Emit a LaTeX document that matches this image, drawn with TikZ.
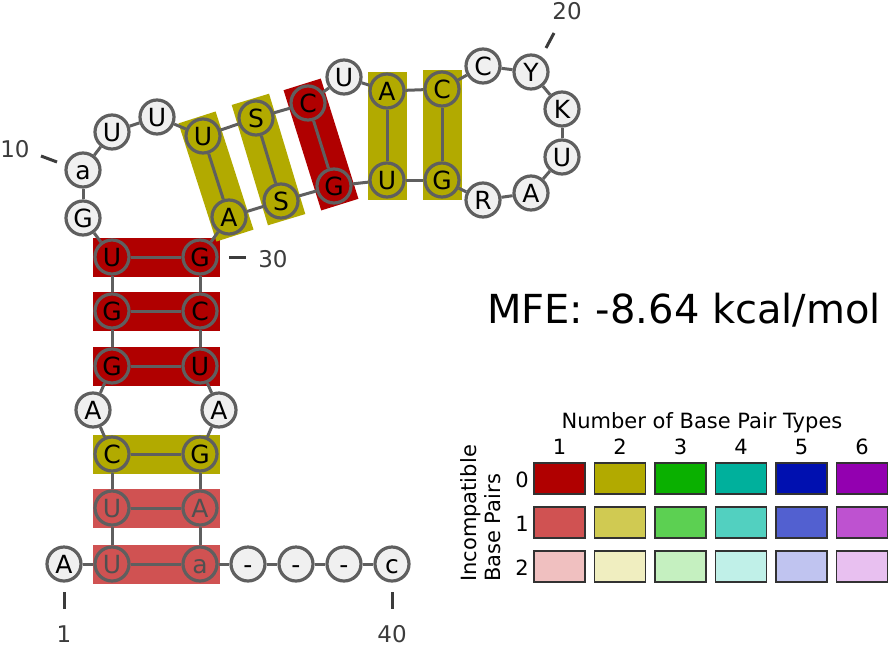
\documentclass[tikz,border=0pt]{standalone}
\usepackage{fontspec}
\setmainfont{DejaVu Sans}
\usetikzlibrary{backgrounds}
\definecolor{ntb}{RGB}{95,95,95}
\definecolor{ntf}{RGB}{240,240,240}
\definecolor{ltxt}{RGB}{80,80,80}
\definecolor{tickc}{RGB}{60,60,60}
\definecolor{swb}{RGB}{50,50,50}
\definecolor{cA0}{RGB}{176,0,0}
\definecolor{cB0}{RGB}{178,170,0}
\definecolor{cC0}{RGB}{10,176,0}
\definecolor{cD0}{RGB}{0,176,156}
\definecolor{cE0}{RGB}{0,16,176}
\definecolor{cF0}{RGB}{147,0,176}
\definecolor{cA1}{RGB}{208,82,82}
\definecolor{cB1}{RGB}{208,202,82}
\definecolor{cC1}{RGB}{92,208,82}
\definecolor{cD1}{RGB}{82,208,192}
\definecolor{cE1}{RGB}{82,96,208}
\definecolor{cF1}{RGB}{190,82,208}
\definecolor{cA2}{RGB}{240,192,192}
\definecolor{cB2}{RGB}{240,238,192}
\definecolor{cC2}{RGB}{197,240,192}
\definecolor{cD2}{RGB}{192,240,232}
\definecolor{cE2}{RGB}{192,196,240}
\definecolor{cF2}{RGB}{232,192,240}
\tikzset{
  nt/.style={circle,draw=ntb,line width=3.2pt,fill=ntf,minimum size=34pt,inner sep=0pt,
    font=\fontsize{25}{25}\selectfont,text height=18pt,text depth=0pt},
  ntr/.style={nt,fill=cA0},
  nty/.style={nt,fill=cB0},
  ntl/.style={nt,fill=cA1,text=ltxt},
  bb/.style={draw=ntb,line width=3pt},
  pairbar/.style={line width=39pt,line cap=rect},
  tickline/.style={draw=tickc,line width=3pt},
  poslab/.style={text=tickc,font=\fontsize{23}{23}\selectfont,inner sep=0pt,text height=17pt,text depth=0pt},
  sw/.style={draw=swb,line width=1.5pt,minimum width=51pt,minimum height=31pt,inner sep=0pt},
  legtxt/.style={font=\fontsize{21}{24}\selectfont,inner sep=0pt,text height=15pt,text depth=0pt},
}
\begin{document}
\begin{tikzpicture}[x=1pt,y=-1pt]
\useasboundingbox (0,0) rectangle (888,648);
% nucleotides
\node[nt]  (n1)  at (64,564)  {A};
\node[ntl] (n2)  at (112,564) {U};
\node[ntl] (n3)  at (112,508) {U};
\node[nty] (n4)  at (112,454) {C};
\node[nt]  (n5)  at (93,410)  {A};
\node[ntr] (n6)  at (112,366) {G};
\node[ntr] (n7)  at (112,311) {G};
\node[ntr] (n8)  at (112,257) {U};
\node[nt]  (n9)  at (83,218)  {G};
\node[nt]  (n10) at (83,170)  {a};
\node[nt]  (n11) at (112,132) {U};
\node[nt]  (n12) at (157,117) {U};
\node[nty] (n13) at (203,136) {U};
\node[nty] (n14) at (256,118) {S};
\node[ntr] (n15) at (308,103) {C};
\node[nt]  (n16) at (344,77)  {U};
\node[nty] (n17) at (387,91)  {A};
\node[nty] (n18) at (442,89)  {C};
\node[nt]  (n19) at (483,66)  {C};
\node[nt]  (n20) at (531,72)  {Y};
\node[nt]  (n21) at (562,109) {K};
\node[nt]  (n22) at (562,157) {U};
\node[nt]  (n23) at (531,193) {A};
\node[nt]  (n24) at (483,200) {R};
\node[nty] (n25) at (442,180) {G};
\node[nty] (n26) at (387,180) {U};
\node[ntr] (n27) at (334,186) {G};
\node[nty] (n28) at (281,201) {S};
\node[nty] (n29) at (229,217) {A};
\node[ntr] (n30) at (200,257) {G};
\node[ntr] (n31) at (200,311) {C};
\node[ntr] (n32) at (200,366) {U};
\node[nt]  (n33) at (219,410) {A};
\node[nty] (n34) at (200,454) {G};
\node[ntl] (n35) at (200,508) {A};
\node[ntl] (n36) at (200,564) {a};
\node[nt]  (n37) at (248,564) {-};
\node[nt]  (n38) at (296,564) {-};
\node[nt]  (n39) at (344,564) {-};
\node[nt]  (n40) at (392,564) {c};
% pair bars
\begin{scope}[on background layer]
\draw[pairbar,cA1] (n2.center) -- (n36.center);
\draw[pairbar,cA1] (n3.center) -- (n35.center);
\draw[pairbar,cB0] (n4.center) -- (n34.center);
\draw[pairbar,cA0] (n6.center) -- (n32.center);
\draw[pairbar,cA0] (n7.center) -- (n31.center);
\draw[pairbar,cA0] (n8.center) -- (n30.center);
\draw[pairbar,cB0] (n13.center) -- (n29.center);
\draw[pairbar,cB0] (n14.center) -- (n28.center);
\draw[pairbar,cA0] (n15.center) -- (n27.center);
\draw[pairbar,cB0] (n17.center) -- (n26.center);
\draw[pairbar,cB0] (n18.center) -- (n25.center);
\end{scope}
% backbone
\foreach \i [evaluate=\i as \j using int(\i+1)] in {1,...,39} {
  \draw[bb] (n\i) -- (n\j);
}
% pair lines
\foreach \a/\b in {2/36,3/35,4/34,6/32,7/31,8/30,13/29,14/28,15/27,17/26,18/25} {
  \draw[bb] (n\a) -- (n\b);
}
% position ticks and labels
\coordinate (t10a) at (41,156); \coordinate (t10b) at (57,162);
\coordinate (t20a) at (546,48); \coordinate (t20b) at (554,33);
\coordinate (t30a) at (229,257); \coordinate (t30b) at (246,257);
\coordinate (t1a) at (64,592); \coordinate (t1b) at (64,609);
\coordinate (t40a) at (392,592); \coordinate (t40b) at (392,609);
\draw[tickline] (t10a) -- (t10b);
\draw[tickline] (t20a) -- (t20b);
\draw[tickline] (t30a) -- (t30b);
\draw[tickline] (t1a) -- (t1b);
\draw[tickline] (t40a) -- (t40b);
\node[poslab] (l10) at (15,149) {10};
\node[poslab] (l20) at (567,11) {20};
\node[poslab] (l30) at (273,259) {30};
\node[poslab] (l1) at (64,634) {1};
\node[poslab] (l40) at (392,634) {40};
% MFE
\node[font=\fontsize{40}{40}\selectfont,inner sep=0pt,text height=29pt,text depth=0pt] (mfe) at (684,309) {MFE: -8.64 kcal/mol};
% legend
\node[legtxt] (ltitle) at (702,421) {Number of Base Pair Types};
\foreach \k in {1,...,6} {
  \node[legtxt] (lc\k) at ({559.5+60.5*(\k-1)},447) {\k};
}
\foreach \r in {0,1,2} {
  \node[legtxt] (lr\r) at (522,{480+44*\r}) {\r};
}
\node[rotate=90,anchor=north west,align=left,inner sep=0pt,font=\fontsize{21}{24}\selectfont] (lrot) at (460,582) {Incompatible\\Base Pairs};
\foreach \r in {0,1,2} {
  \foreach \c [count=\k from 0] in {A,B,C,D,E,F} {
    \node[sw,fill=c\c\r] (s\r\c) at ({559.5+60.5*\k},{478.5+44*\r}) {};
  }
}
\end{tikzpicture}
\end{document}
